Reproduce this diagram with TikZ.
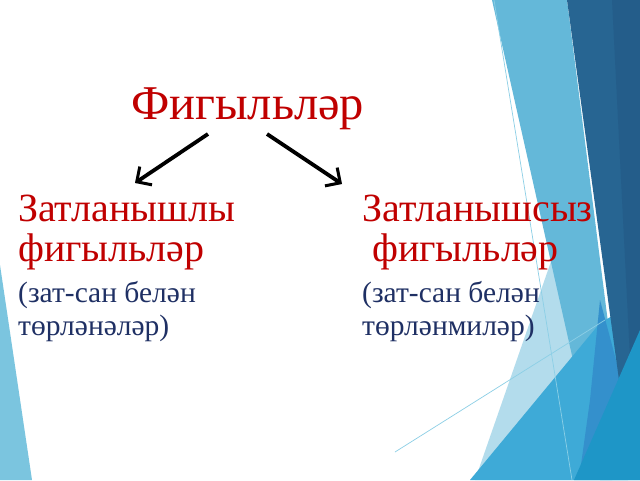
\documentclass[tikz,border=0pt]{standalone}
\usepackage{fontspec}
\setmainfont{Liberation Serif}
\usetikzlibrary{arrows.meta}
\definecolor{tred}{HTML}{C00000}
\definecolor{tnavy}{HTML}{1F3064}
\definecolor{cpale}{HTML}{B3DCEC}
\definecolor{clight}{HTML}{64B8D9}
\definecolor{cmed}{HTML}{3EAAD7}
\definecolor{csliver}{HTML}{3490CC}
\definecolor{cdarkb}{HTML}{276592}
\definecolor{cdarkc}{HTML}{245D8A}
\definecolor{cbright}{HTML}{1E96C7}
\definecolor{cleft}{HTML}{7BC5DF}
\definecolor{cthin}{HTML}{8CCFE6}
\tikzset{
  redtxt/.style={anchor=base west, inner sep=0pt, text=tred, font=\fontsize{40}{42}\selectfont},
  navytxt/.style={anchor=base west, inner sep=0pt, text=tnavy, font=\fontsize{29.5}{33}\selectfont},
  titletxt/.style={anchor=base west, inner sep=0pt, text=tred, font=\fontsize{48.5}{50}\selectfont},
  arr/.style={line width=3.8pt, -{Straight Barb[length=11pt,width=22pt,line width=3pt]}}
}
\begin{document}
\begin{tikzpicture}[x=1pt,y=-1pt]
\useasboundingbox (0,0) rectangle (640,480);
\fill[white] (0,0) rectangle (640,480);
% background facets
\fill[cpale] (555,250) -- (475,480) -- (612,480) -- cycle;
\fill[clight] (492,0) -- (567,0) -- (628,480) -- (600,480) -- cycle;
\fill[cmed] (470,480) -- (600,323) -- (640,300) -- (640,480) -- cycle;
\fill[csliver] (600,300) -- (624,390) -- (580,472) -- (590,400) -- cycle;
\fill[cdarkb] (567,0) -- (640,0) -- (640,340) -- (619,380) -- cycle;
\fill[cdarkc] (612,0) -- (640,0) -- (640,340) -- (630,358) -- cycle;
\fill[cbright] (640,330) -- (574,480) -- (640,480) -- cycle;
\fill[cleft] (0,265) -- (32,480) -- (0,480) -- cycle;
\draw[cthin, line width=0.7pt] (494,0) -- (572,480);
\draw[cthin, line width=0.7pt] (395,452) -- (605,320);
% texts
\node[titletxt] (title) at (131,119) {Фигыльләр};
\node[redtxt] (l1) at (18,221) {Затланышлы};
\node[redtxt] (l2) at (18,261) {фигыльләр};
\node[navytxt] (l3) at (18,302) {(зат-сан белән};
\node[navytxt] (l4) at (18,335) {төрләнәләр)};
\node[redtxt] (r1) at (362,221) {Затланышсыз};
\node[redtxt] (r2) at (362,261) {\ фигыльләр};
\node[navytxt] (r3) at (362,302) {(зат-сан белән};
\node[navytxt] (r4) at (362,335) {төрләнмиләр)};
% arrows
\coordinate (a1s) at (208,134);
\coordinate (a1e) at (135,183);
\coordinate (a2s) at (267,134);
\coordinate (a2e) at (342,184);
\draw[arr] (a1s) -- (a1e);
\draw[arr] (a2s) -- (a2e);
\end{tikzpicture}
\end{document}
